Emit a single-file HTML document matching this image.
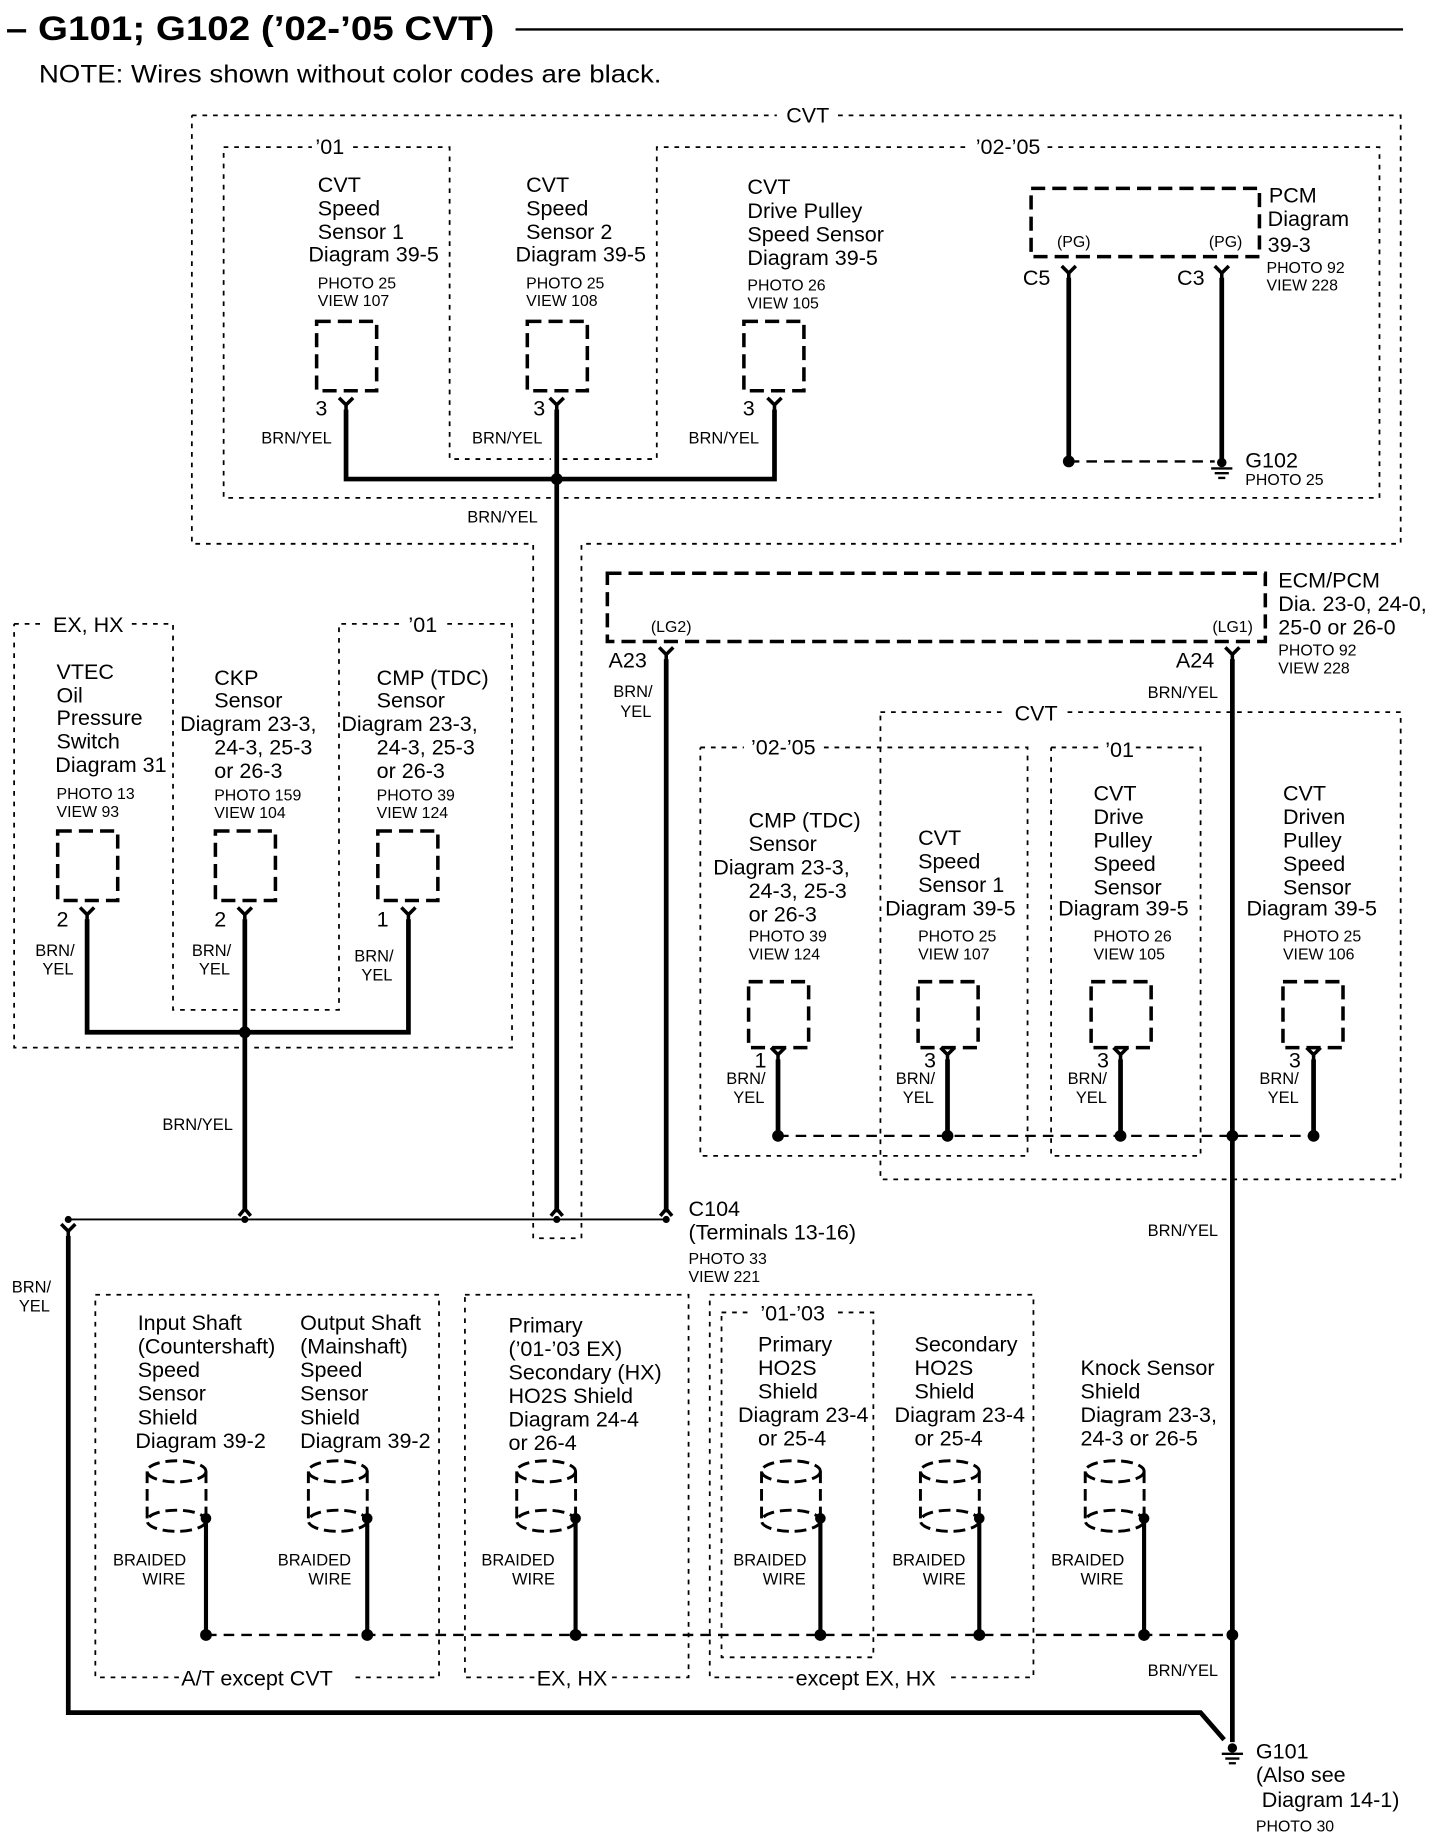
<!DOCTYPE html>
<html><head><meta charset="utf-8"><style>
html,body{margin:0;padding:0;background:#fff}
svg{display:block}
text{font-family:"Liberation Sans",sans-serif;fill:#000}
.m{font-size:18.3px}.s{font-size:13.5px}.b{font-size:14px}
.w{stroke:#000;stroke-width:4;fill:none}
.tw{stroke:#000;stroke-width:1.6;fill:none}
.d{stroke:#000;stroke-width:1.5;fill:none;stroke-dasharray:4 5}
.dl{stroke:#000;stroke-width:1.5;fill:none;stroke-dasharray:9 6}
.cb{stroke:#000;stroke-width:3;fill:none;stroke-dasharray:12 6}
.sh{stroke:#000;stroke-width:2.5;fill:none;stroke-dasharray:10 5}
</style></head><body>
<svg width="1456" height="1848" viewBox="0 0 1237 1570" preserveAspectRatio="none" xmlns="http://www.w3.org/2000/svg">
<defs>
<path id="ty" d="M-6,-6 L0,0 L6,-6 M0,0 V6" stroke="#000" stroke-width="3" fill="none"/>
<path id="tu" d="M-5,6 L0,0 L5,6 M0,0 V-6" stroke="#000" stroke-width="3" fill="none"/>
<rect id="cbx" x="0" y="0" width="51" height="59" class="cb"/>
<rect id="cbx2" x="0" y="0" width="51" height="56" class="cb"/>
<g id="shd">
<ellipse cx="0" cy="0" rx="25" ry="9" class="sh"/>
<path d="M-25,0 V42 M25,0 V42" class="sh"/>
<ellipse cx="0" cy="42" rx="25" ry="9" class="sh"/>
</g>
<g id="gnd"><circle cx="0" cy="0" r="4" fill="#000"/><path d="M-9,5 H9 M-6,9 H6 M-3,13 H3" stroke="#000" stroke-width="2"/></g>
</defs>

<!-- Title -->
<text x="5" y="34" textLength="415" lengthAdjust="spacingAndGlyphs" style="font-size:29px;font-weight:bold">– G101; G102 (’02-’05 CVT)</text>
<line x1="438" y1="25" x2="1192" y2="25" stroke="#000" stroke-width="2"/>
<text x="33" y="70" textLength="529" lengthAdjust="spacingAndGlyphs" style="font-size:21px">NOTE: Wires shown without color codes are black.</text>

<!-- CVT upper region -->
<path class="d" d="M163,98 H660 M712,98 H1190 V462 H494 V1052 H453 V462 H163 V98"/>
<text x="668" y="104" class="m">CVT</text>
<path class="d" d="M190,125 H265 M300,125 H382 V390 H468 M478,390 H558 V125 H822 M890,125 H1172 V423 H478 M468,423 H190 V125"/>
<text x="268" y="131" class="m">’01</text>
<text x="829" y="131" class="m">’02-’05</text>

<!-- Upper sensors -->
<text class="m"><tspan x="270" y="163">CVT</tspan><tspan x="270" y="183">Speed</tspan><tspan x="270" y="203">Sensor 1</tspan><tspan x="262" y="222">Diagram 39-5</tspan></text>
<text class="s"><tspan x="270" y="245">PHOTO 25</tspan><tspan x="270" y="260">VIEW 107</tspan></text>
<text class="m"><tspan x="447" y="163">CVT</tspan><tspan x="447" y="183">Speed</tspan><tspan x="447" y="203">Sensor 2</tspan><tspan x="438" y="222">Diagram 39-5</tspan></text>
<text class="s"><tspan x="447" y="245">PHOTO 25</tspan><tspan x="447" y="260">VIEW 108</tspan></text>
<text class="m"><tspan x="635" y="165">CVT</tspan><tspan x="635" y="185">Drive Pulley</tspan><tspan x="635" y="205">Speed Sensor</tspan><tspan x="635" y="225">Diagram 39-5</tspan></text>
<text class="s"><tspan x="635" y="247">PHOTO 26</tspan><tspan x="635" y="262">VIEW 105</tspan></text>
<use href="#cbx" x="269" y="273"/><use href="#cbx" x="448" y="273"/><use href="#cbx" x="632" y="273"/>
<use href="#ty" x="294" y="344"/><use href="#ty" x="473" y="344"/><use href="#ty" x="658" y="344"/>
<text class="m" x="268" y="353">3</text><text class="m" x="453" y="353">3</text><text class="m" x="631" y="353">3</text>
<text class="b" x="222" y="377">BRN/YEL</text><text class="b" x="401" y="377">BRN/YEL</text><text class="b" x="585" y="377">BRN/YEL</text>
<path class="w" d="M294,348 V407 H658 V348 M473,348 V1030"/>
<circle cx="473" cy="407" r="5" fill="#000"/>
<text class="b" x="397" y="444">BRN/YEL</text>

<!-- PCM -->
<path class="cb" d="M876,160 H1070 V218 H876 Z"/>
<text class="s" x="898" y="210">(PG)</text><text class="s" x="1027" y="210">(PG)</text>
<text class="m"><tspan x="1078" y="172">PCM</tspan><tspan x="1077" y="192">Diagram</tspan><tspan x="1077" y="214">39-3</tspan></text>
<text class="s"><tspan x="1076" y="232">PHOTO 92</tspan><tspan x="1076" y="247">VIEW 228</tspan></text>
<text class="m" x="869" y="242">C5</text><text class="m" x="1000" y="242">C3</text>
<use href="#ty" x="908" y="232"/><use href="#ty" x="1038" y="232"/>
<path class="w" d="M908,236 V390 M1038,236 V390"/>
<path class="dl" style="stroke-width:2" d="M908,392 H1032"/>
<circle cx="908" cy="392" r="5" fill="#000"/>
<use href="#gnd" x="1038" y="393"/>
<text x="1058" y="397" style="font-size:18.3px">G102</text>
<text class="s" x="1058" y="412">PHOTO 25</text>

<!-- ECM/PCM -->
<path class="cb" d="M516,487 H1075 V545 H516 Z"/>
<text class="s" x="553" y="537">(LG2)</text><text class="s" x="1030" y="537">(LG1)</text>
<text class="m"><tspan x="1086" y="499">ECM/PCM</tspan><tspan x="1086" y="519">Dia. 23-0, 24-0,</tspan><tspan x="1086" y="539">25-0 or 26-0</tspan></text>
<text class="s"><tspan x="1086" y="557">PHOTO 92</tspan><tspan x="1086" y="572">VIEW 228</tspan></text>
<text class="m" x="517" y="567">A23</text><text class="m" x="999" y="567">A24</text>
<use href="#ty" x="566" y="556"/><use href="#ty" x="1047" y="556"/>
<path class="w" d="M566,560 V1030 M1047,560 V1480"/>
<text class="b"><tspan x="521" y="592">BRN/</tspan><tspan x="527" y="609">YEL</tspan></text>
<text class="b" x="975" y="593">BRN/YEL</text>

<!-- right CVT region -->
<path class="d" d="M748,605 H855 M907,605 H1190 V1002 H748 V605"/>
<text class="m" x="862" y="612">CVT</text>
<path class="d" d="M595,635 H632 M700,635 H873 V982 H595 V635"/>
<text class="m" x="638" y="641">’02-’05</text>
<path class="d" d="M893,635 H935 M965,635 H1020 V982 H893 V635"/>
<text class="m" x="939" y="643">’01</text>

<text class="m"><tspan x="636" y="703">CMP (TDC)</tspan><tspan x="636" y="723">Sensor</tspan><tspan x="606" y="743">Diagram 23-3,</tspan><tspan x="636" y="763">24-3, 25-3</tspan><tspan x="636" y="783">or 26-3</tspan></text>
<text class="s"><tspan x="636" y="800">PHOTO 39</tspan><tspan x="636" y="815">VIEW 124</tspan></text>
<text class="m"><tspan x="780" y="718">CVT</tspan><tspan x="780" y="738">Speed</tspan><tspan x="780" y="758">Sensor 1</tspan><tspan x="752" y="778">Diagram 39-5</tspan></text>
<text class="s"><tspan x="780" y="800">PHOTO 25</tspan><tspan x="780" y="815">VIEW 107</tspan></text>
<text class="m"><tspan x="929" y="680">CVT</tspan><tspan x="929" y="700">Drive</tspan><tspan x="929" y="720">Pulley</tspan><tspan x="929" y="740">Speed</tspan><tspan x="929" y="760">Sensor</tspan><tspan x="899" y="778">Diagram 39-5</tspan></text>
<text class="s"><tspan x="929" y="800">PHOTO 26</tspan><tspan x="929" y="815">VIEW 105</tspan></text>
<text class="m"><tspan x="1090" y="680">CVT</tspan><tspan x="1090" y="700">Driven</tspan><tspan x="1090" y="720">Pulley</tspan><tspan x="1090" y="740">Speed</tspan><tspan x="1090" y="760">Sensor</tspan><tspan x="1059" y="778">Diagram 39-5</tspan></text>
<text class="s"><tspan x="1090" y="800">PHOTO 25</tspan><tspan x="1090" y="815">VIEW 106</tspan></text>
<use href="#cbx2" x="636" y="834"/><use href="#cbx2" x="780" y="834"/><use href="#cbx2" x="927" y="834"/><use href="#cbx2" x="1090" y="834"/>
<use href="#ty" x="661" y="896"/><use href="#ty" x="805" y="896"/><use href="#ty" x="952" y="896"/><use href="#ty" x="1116" y="896"/>
<text class="m" x="641" y="907">1</text><text class="m" x="785" y="907">3</text><text class="m" x="932" y="907">3</text><text class="m" x="1095" y="907">3</text>
<text class="b"><tspan x="617" y="921">BRN/</tspan><tspan x="623" y="937">YEL</tspan><tspan x="761" y="921">BRN/</tspan><tspan x="767" y="937">YEL</tspan><tspan x="907" y="921">BRN/</tspan><tspan x="914" y="937">YEL</tspan><tspan x="1070" y="921">BRN/</tspan><tspan x="1077" y="937">YEL</tspan></text>
<path class="w" d="M661,900 V965 M805,900 V965 M952,900 V965 M1116,900 V965"/>
<path class="dl" style="stroke-width:2" d="M661,965 H1116"/>
<circle cx="661" cy="965" r="5" fill="#000"/><circle cx="805" cy="965" r="5" fill="#000"/><circle cx="952" cy="965" r="5" fill="#000"/><circle cx="1047" cy="965" r="5" fill="#000"/><circle cx="1116" cy="965" r="5" fill="#000"/>

<!-- left region -->
<path class="d" d="M12,530 H38 M112,530 H147 V858 H203 M213,858 H288 V530 H340 M380,530 H435 V890 H213 M203,890 H12 V530"/>
<text class="m" x="45" y="537">EX, HX</text>
<text class="m" x="347" y="537">’01</text>
<text class="m"><tspan x="48" y="577">VTEC</tspan><tspan x="48" y="597">Oil</tspan><tspan x="48" y="616">Pressure</tspan><tspan x="48" y="636">Switch</tspan><tspan x="47" y="656">Diagram 31</tspan></text>
<text class="s"><tspan x="48" y="679">PHOTO 13</tspan><tspan x="48" y="694">VIEW 93</tspan></text>
<text class="m"><tspan x="182" y="582">CKP</tspan><tspan x="182" y="601">Sensor</tspan><tspan x="153" y="621">Diagram 23-3,</tspan><tspan x="182" y="641">24-3, 25-3</tspan><tspan x="182" y="661">or 26-3</tspan></text>
<text class="s"><tspan x="182" y="680">PHOTO 159</tspan><tspan x="182" y="695">VIEW 104</tspan></text>
<text class="m"><tspan x="320" y="582">CMP (TDC)</tspan><tspan x="320" y="601">Sensor</tspan><tspan x="290" y="621">Diagram 23-3,</tspan><tspan x="320" y="641">24-3, 25-3</tspan><tspan x="320" y="661">or 26-3</tspan></text>
<text class="s"><tspan x="320" y="680">PHOTO 39</tspan><tspan x="320" y="695">VIEW 124</tspan></text>
<use href="#cbx" x="49" y="706"/><use href="#cbx" x="183" y="706"/><use href="#cbx" x="321" y="706"/>
<use href="#ty" x="74" y="777"/><use href="#ty" x="208" y="777"/><use href="#ty" x="347" y="777"/>
<text class="m" x="48" y="787">2</text><text class="m" x="182" y="787">2</text><text class="m" x="320" y="787">1</text>
<text class="b"><tspan x="30" y="812">BRN/</tspan><tspan x="36" y="828">YEL</tspan><tspan x="163" y="812">BRN/</tspan><tspan x="169" y="828">YEL</tspan><tspan x="301" y="817">BRN/</tspan><tspan x="307" y="833">YEL</tspan></text>
<path class="w" d="M74,781 V877 H347 V781 M208,781 V1028"/>
<circle cx="208" cy="877" r="5" fill="#000"/>
<text class="b" x="138" y="960">BRN/YEL</text>

<!-- C104 -->
<line x1="58" y1="1036" x2="566" y2="1036" class="tw"/>
<use href="#tu" x="208" y="1027"/><use href="#tu" x="473" y="1027"/><use href="#tu" x="566" y="1027"/>
<circle cx="58" cy="1036" r="3" fill="#000"/><circle cx="208" cy="1036" r="3" fill="#000"/><circle cx="473" cy="1036" r="3" fill="#000"/><circle cx="566" cy="1036" r="3" fill="#000"/>
<use href="#ty" x="58" y="1046"/>
<text class="m"><tspan x="585" y="1033">C104</tspan><tspan x="585" y="1053">(Terminals 13-16)</tspan></text>
<text class="s"><tspan x="585" y="1074">PHOTO 33</tspan><tspan x="585" y="1089">VIEW 221</tspan></text>
<path class="w" d="M58,1050 V1455 H1020 L1040,1478"/>
<text class="b"><tspan x="10" y="1098">BRN/</tspan><tspan x="16" y="1114">YEL</tspan></text>
<text class="b" x="975" y="1050">BRN/YEL</text>
<text class="b" x="975" y="1424">BRN/YEL</text>

<!-- bottom boxes -->
<path class="d" d="M81,1100 H373 V1425 H302 M152,1425 H81 V1100"/>
<text class="m" x="154" y="1432">A/T except CVT</text>
<path class="d" d="M395,1100 H585 V1425 H520 M454,1425 H395 V1100"/>
<text class="m" x="456" y="1432">EX, HX</text>
<path class="d" d="M603,1100 H878 V1425 H803 M674,1425 H603 V1100"/>
<text class="m" x="676" y="1432">except EX, HX</text>
<path class="d" d="M613,1115 H640 M712,1115 H742 V1408 H613 V1115"/>
<text class="m" x="646" y="1122">’01-’03</text>

<text class="m"><tspan x="117" y="1130">Input Shaft</tspan><tspan x="117" y="1150">(Countershaft)</tspan><tspan x="117" y="1170">Speed</tspan><tspan x="117" y="1190">Sensor</tspan><tspan x="117" y="1210">Shield</tspan><tspan x="115" y="1230">Diagram 39-2</tspan></text>
<text class="m"><tspan x="255" y="1130">Output Shaft</tspan><tspan x="255" y="1150">(Mainshaft)</tspan><tspan x="255" y="1170">Speed</tspan><tspan x="255" y="1190">Sensor</tspan><tspan x="255" y="1210">Shield</tspan><tspan x="255" y="1230">Diagram 39-2</tspan></text>
<text class="m"><tspan x="432" y="1132">Primary</tspan><tspan x="432" y="1152">(’01-’03 EX)</tspan><tspan x="432" y="1172">Secondary (HX)</tspan><tspan x="432" y="1192">HO2S Shield</tspan><tspan x="432" y="1212">Diagram 24-4</tspan><tspan x="432" y="1232">or 26-4</tspan></text>
<text class="m"><tspan x="644" y="1148">Primary</tspan><tspan x="644" y="1168">HO2S</tspan><tspan x="644" y="1188">Shield</tspan><tspan x="627" y="1208">Diagram 23-4</tspan><tspan x="644" y="1228">or 25-4</tspan></text>
<text class="m"><tspan x="777" y="1148">Secondary</tspan><tspan x="777" y="1168">HO2S</tspan><tspan x="777" y="1188">Shield</tspan><tspan x="760" y="1208">Diagram 23-4</tspan><tspan x="777" y="1228">or 25-4</tspan></text>
<text class="m"><tspan x="918" y="1168">Knock Sensor</tspan><tspan x="918" y="1188">Shield</tspan><tspan x="918" y="1208">Diagram 23-3,</tspan><tspan x="918" y="1228">24-3 or 26-5</tspan></text>

<use href="#shd" x="150" y="1250"/><use href="#shd" x="287" y="1250"/><use href="#shd" x="464" y="1250"/><use href="#shd" x="672" y="1250"/><use href="#shd" x="807" y="1250"/><use href="#shd" x="947" y="1250"/>
<g fill="#000"><circle cx="175" cy="1290" r="4.5"/><circle cx="312" cy="1290" r="4.5"/><circle cx="489" cy="1290" r="4.5"/><circle cx="697" cy="1290" r="4.5"/><circle cx="832" cy="1290" r="4.5"/><circle cx="972" cy="1290" r="4.5"/></g>
<path class="w" style="stroke-width:3.5" d="M175,1290 V1389 M312,1290 V1389 M489,1290 V1389 M697,1290 V1389 M832,1290 V1389 M972,1290 V1389"/>
<text class="b"><tspan x="96" y="1330">BRAIDED</tspan><tspan x="121" y="1346">WIRE</tspan><tspan x="236" y="1330">BRAIDED</tspan><tspan x="262" y="1346">WIRE</tspan><tspan x="409" y="1330">BRAIDED</tspan><tspan x="435" y="1346">WIRE</tspan><tspan x="623" y="1330">BRAIDED</tspan><tspan x="648" y="1346">WIRE</tspan><tspan x="758" y="1330">BRAIDED</tspan><tspan x="784" y="1346">WIRE</tspan><tspan x="893" y="1330">BRAIDED</tspan><tspan x="918" y="1346">WIRE</tspan></text>
<path class="dl" style="stroke-width:2" d="M175,1389 H1047"/>
<g fill="#000"><circle cx="175" cy="1389" r="5"/><circle cx="312" cy="1389" r="5"/><circle cx="489" cy="1389" r="5"/><circle cx="697" cy="1389" r="5"/><circle cx="832" cy="1389" r="5"/><circle cx="972" cy="1389" r="5"/><circle cx="1047" cy="1389" r="5"/></g>

<!-- G101 -->
<use href="#gnd" x="1047" y="1485"/>
<text class="m"><tspan x="1067" y="1494">G101</tspan><tspan x="1067" y="1514">(Also see</tspan><tspan x="1072" y="1535">Diagram 14-1)</tspan></text>
<text class="s" x="1067" y="1556">PHOTO 30</text>
</svg>
</body></html>
